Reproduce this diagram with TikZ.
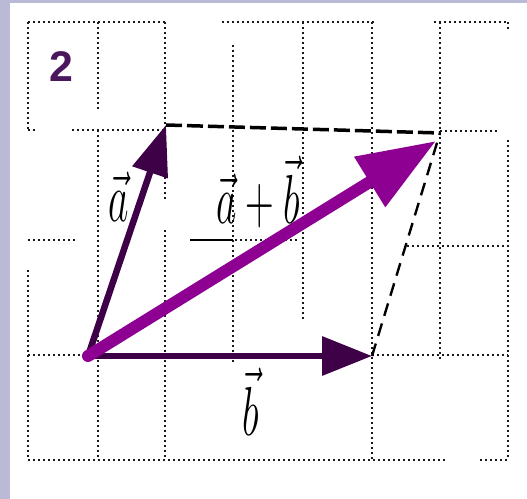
\documentclass[tikz,border=0pt]{standalone}
\usepackage{fontspec}
\newfontfamily\digitfont{Liberation Sans}
\usetikzlibrary{arrows.meta}
\definecolor{vecdark}{RGB}{62,0,70}
\definecolor{vecsum}{RGB}{142,0,146}
\definecolor{pagelav}{RGB}{186,186,214}
\definecolor{numpurple}{RGB}{74,22,92}
\tikzset{
  gridline/.style={black!90,line width=2bp,dash pattern=on 2bp off 3bp},
  veclab/.style={font=\Huge,inner sep=0pt},
}
\newcommand{\tallvec}[1]{\scalebox{1.6}[2.8]{$#1$}}
\begin{document}
\begin{tikzpicture}[x=1bp,y=-1bp]
\useasboundingbox (0,0) rectangle (527,499);
\fill[pagelav] (0,0) rectangle (527,499);
\fill[white] (10,3) rectangle (527,499);
% squared paper (broken scan lines)
\foreach \x/\a/\b in {28/22/130,28/270/460,98/22/110,98/130/460,165/22/200,165/230/460,233/45/125,233/130/365,303/22/320,372/22/460,440/22/360,508/22/32,508/140/460}{
  \draw[gridline] (\x,\a) -- (\x,\b);}
\foreach \y/\a/\b in {22/28/165,22/222/374,22/434/508,130/28/36,130/72/165,131/440/500,240/28/77,240/190/300,246/407/508,355/28/88,355/372/508,460/28/447,460/480/508}{
  \draw[gridline] (\a,\y) -- (\b,\y);}
\draw[black,line width=1.8bp] (190,240) -- (233,240);
% points of the parallelogram
\coordinate (O) at (88,356);
\coordinate (A) at (166,125);
\coordinate (B) at (372,356);
\coordinate (C) at (440,133);
\coordinate (S) at (436,141);
\draw[black,line width=3.5bp,dash pattern=on 16bp off 5bp] (A) -- (C);
\draw[black,line width=2.4bp,dash pattern=on 13bp off 8bp] (B) -- (C);
% vectors
\draw[vecdark,line width=6.5bp,-{Triangle[length=50bp,width=36bp]}] (O) -- (A);
\draw[vecdark,line width=6.5bp,-{Triangle[length=50bp,width=38bp]}] (O) -- (B);
\draw[vecsum,line width=12bp,line cap=round,-{Triangle[length=78bp,width=56bp]}] (O) -- (S);
\node[veclab] (la) at (119,197) {\tallvec{\vec a}};
\node[veclab] (lsum) at (258,192) {\tallvec{\vec a+\vec b}};
\node[veclab] (lb) at (251,402) {\tallvec{\vec b}};
\node[font=\digitfont\bfseries\fontsize{43}{43}\selectfont,text=numpurple,inner sep=0pt] (num) at (61,67) {2};
\end{tikzpicture}
\end{document}
